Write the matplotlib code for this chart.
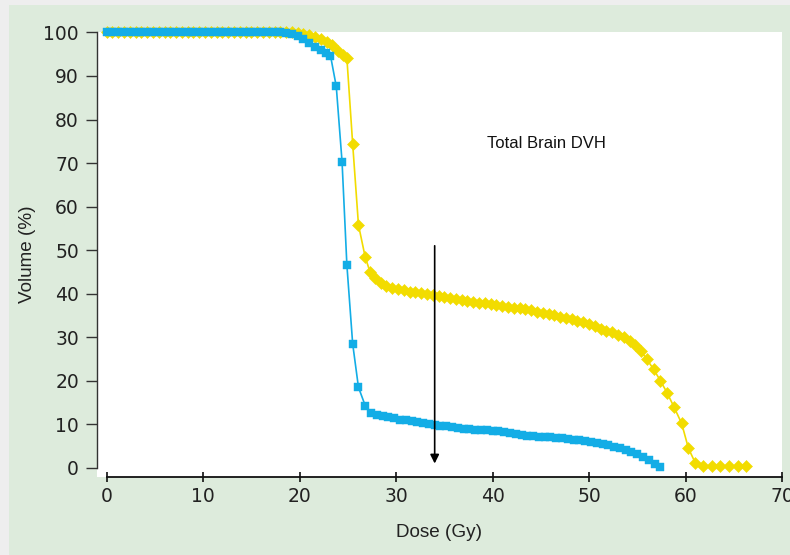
import matplotlib.pyplot as plt
from matplotlib.patches import Rectangle

# dose (Gy) and volume (%), one entry per marker
dose_blue = [0.0, 0.6, 1.2, 1.8, 2.4, 3.0, 3.6, 4.2, 4.8, 5.4,
             6.0, 6.6, 7.2, 7.8, 8.4, 9.0, 9.6, 10.2, 10.8, 11.4,
             12.0, 12.6, 13.2, 13.8, 14.4, 15.0, 15.6, 16.2, 16.8, 17.4,
             18.0, 18.6, 19.2, 19.8, 20.4, 21.0, 21.6, 22.2, 22.7, 23.2,
             23.8, 24.4, 24.9, 25.5, 26.1, 26.8, 27.4,
             28.0, 28.6, 29.2, 29.8, 30.4, 31.0, 31.6, 32.2, 32.8, 33.4,
             34.0, 34.6, 35.2, 35.8, 36.4, 37.0, 37.6, 38.2, 38.8, 39.4,
             40.0, 40.6, 41.2, 41.8, 42.4, 43.0, 43.6, 44.2, 44.8, 45.4,
             46.0, 46.6, 47.2, 47.8, 48.4, 49.0, 49.6, 50.2, 50.8, 51.4,
             52.0, 52.6, 53.2, 53.8, 54.4, 55.0, 55.6, 56.2, 56.8, 57.4]
vol_blue = [100.0, 100.0, 100.0, 100.0, 100.0, 100.0, 100.0, 100.0, 100.0, 100.0,
            100.0, 100.0, 100.0, 100.0, 100.0, 100.0, 100.0, 100.0, 100.0, 100.0,
            100.0, 100.0, 100.0, 100.0, 100.0, 100.0, 100.0, 100.0, 100.0, 100.0,
            100.0, 99.9, 99.7, 99.2, 98.4, 97.5, 96.7, 95.9, 95.3, 94.7,
            87.6, 70.3, 46.6, 28.5, 18.5, 14.3, 12.7,
            12.2, 11.9, 11.6, 11.4, 11.1, 10.9, 10.7, 10.5, 10.3, 10.1,
            9.9, 9.7, 9.5, 9.3, 9.2, 9.0, 8.9, 8.8, 8.7, 8.6,
            8.5, 8.4, 8.2, 8.0, 7.8, 7.6, 7.4, 7.3, 7.2, 7.1,
            7.0, 6.9, 6.8, 6.7, 6.5, 6.4, 6.2, 6.0, 5.8, 5.5,
            5.2, 4.9, 4.6, 4.2, 3.7, 3.2, 2.6, 1.7, 1.0, 0.2]

dose_yellow = [0.0, 0.6, 1.2, 1.8, 2.4, 3.0, 3.6, 4.2, 4.8, 5.4,
               6.0, 6.6, 7.2, 7.8, 8.4, 9.0, 9.6, 10.2, 10.8, 11.4,
               12.0, 12.6, 13.2, 13.8, 14.4, 15.0, 15.6, 16.2, 16.8, 17.4,
               18.0, 18.6, 19.2, 19.8, 20.4, 21.0, 21.6, 22.2, 22.8, 23.4,
               24.0, 24.5, 24.9, 25.5, 26.1, 26.8, 27.3, 27.8, 28.4, 29.0,
               29.6, 30.2, 30.8, 31.4, 32.0, 32.6, 33.2, 33.8, 34.4, 35.0,
               35.6, 36.2, 36.8, 37.4, 38.0, 38.6, 39.2, 39.8, 40.4, 41.0,
               41.6, 42.2, 42.8, 43.4, 44.0, 44.6, 45.2, 45.8, 46.4, 47.0,
               47.6, 48.2, 48.8, 49.4, 50.0, 50.6, 51.2, 51.8, 52.4, 53.0,
               53.6, 54.2, 54.8, 55.4, 56.0, 56.7, 57.4, 58.1, 58.8, 59.6,
               60.3, 61.0, 61.8, 62.7, 63.6, 64.5, 65.4, 66.3]
vol_yellow = [100.0, 100.0, 100.0, 100.0, 100.0, 100.0, 100.0, 100.0, 100.0, 100.0,
              100.0, 100.0, 100.0, 100.0, 100.0, 100.0, 100.0, 100.0, 100.0, 100.0,
              100.0, 100.0, 100.0, 100.0, 100.0, 100.0, 100.0, 100.0, 100.0, 100.0,
              100.0, 100.0, 100.0, 99.9, 99.7, 99.3, 99.0, 98.5, 97.9, 97.0,
              95.8, 94.8, 94.1, 74.4, 55.8, 48.4, 45.0, 43.5, 42.4, 41.8,
              41.3, 41.0, 40.8, 40.5, 40.3, 40.1, 39.9, 39.7, 39.4, 39.2,
              39.0, 38.7, 38.5, 38.3, 38.1, 37.9, 37.8, 37.6, 37.4, 37.2,
              37.0, 36.8, 36.6, 36.4, 36.2, 35.9, 35.6, 35.3, 35.0, 34.7,
              34.4, 34.1, 33.8, 33.4, 33.0, 32.5, 32.0, 31.5, 31.1, 30.6,
              30.0, 29.2, 28.2, 26.8, 24.9, 22.6, 20.0, 17.2, 14.0, 10.2,
              4.5, 1.2, 0.5, 0.4, 0.4, 0.4, 0.4, 0.4]

x_ticks = [0, 10, 20, 30, 40, 50, 60, 70]
y_ticks = [0, 10, 20, 30, 40, 50, 60, 70, 80, 90, 100]

arrow_dose = 34.0
arrow_top = 51.0
arrow_tip = 1.0
note = 'Total Brain DVH'

blue = '#13ade6'
yellow = '#f2dc00'
green = '#ddebdc'

fig = plt.figure(figsize=(7.9, 5.55), dpi=100, facecolor='#eeeeee')
fig.add_artist(Rectangle((9 / 790, 0), 1, 550 / 555, transform=fig.transFigure,
                         facecolor=green, edgecolor='none', zorder=-1))

ax = fig.add_axes([97 / 790, 78 / 555, 685 / 790, 445 / 555])
ax.set_facecolor('white')
ax.set_xlim(-1.0, 70)
ax.set_ylim(-2.1, 100.1)

ax.plot(dose_yellow, vol_yellow, color=yellow, lw=1.2, marker='D', ms=6.0,
        mec=yellow, mew=0.4, clip_on=False, zorder=3)
ax.plot(dose_blue, vol_blue, color=blue, lw=1.2, marker='s', ms=6.0,
        mec=blue, mew=0.3, clip_on=False, zorder=4)

ax.annotate('', xy=(arrow_dose, arrow_tip), xytext=(arrow_dose, arrow_top),
            arrowprops=dict(arrowstyle='-|>', color='black', lw=1.2,
                            mutation_scale=13, shrinkA=0, shrinkB=0),
            zorder=6)
ax.text(39.4, 74.6, note, ha='left', va='center', fontsize=12,
        family='Liberation Sans', color='#111111')

for side in ['top', 'right']:
    ax.spines[side].set_visible(False)
ax.spines['left'].set_bounds(0, 100)
ax.spines['bottom'].set_bounds(0, 70)
ax.spines['left'].set_color('#333333')
ax.spines['bottom'].set_color('#111111')
ax.spines['left'].set_linewidth(1.0)
ax.spines['bottom'].set_linewidth(1.3)

ax.set_xticks(x_ticks)
ax.set_yticks(y_ticks)
ax.tick_params(axis='y', direction='out', length=8, width=1.0, pad=5,
               color='#333333', labelsize=13.5, labelcolor='#222222')
ax.tick_params(axis='x', direction='inout', length=7, width=1.2, pad=4,
               color='#111111', labelsize=13.5, labelcolor='#222222')

ax.set_xlabel('Dose (Gy)', fontsize=13.6, family='Liberation Sans',
              color='#222222', labelpad=13)
ax.set_ylabel('Volume (%)', fontsize=13.6, family='Liberation Sans',
              color='#222222', labelpad=5)

fig.savefig('out.png', dpi=100, facecolor=fig.get_facecolor())
